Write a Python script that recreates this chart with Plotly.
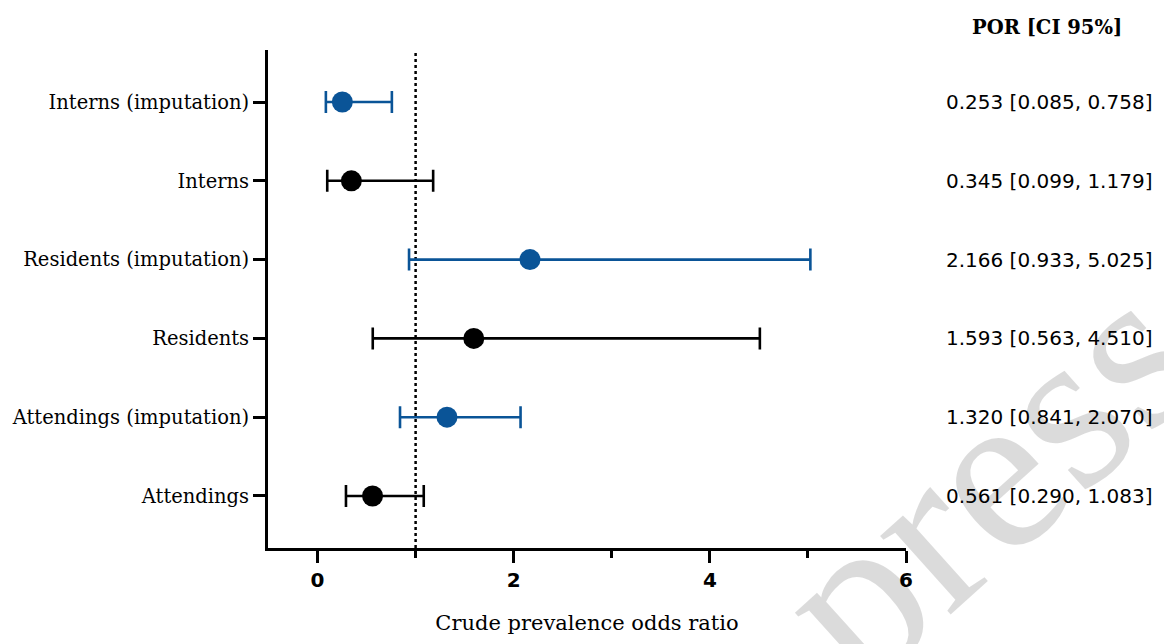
import plotly.graph_objects as go

# Data (top to bottom)
categories = ["Interns (imputation)", "Interns", "Residents (imputation)",
              "Residents", "Attendings (imputation)", "Attendings"]
por = [0.253, 0.345, 2.166, 1.593, 1.320, 0.561]
ci_low = [0.085, 0.099, 0.933, 0.563, 0.841, 0.290]
ci_high = [0.758, 1.179, 5.025, 4.510, 2.070, 1.083]
imputed = [True, False, True, False, True, False]
x_ticks = [0, 2, 4, 6]
x_minor = [1, 3, 5]

BLUE = "#0a5497"
BLACK = "#000000"
n = len(categories)
ypos = [n - 1 - i for i in range(n)]

fig = go.Figure()

for flag, col in [(True, BLUE), (False, BLACK)]:
    idx = [i for i in range(n) if imputed[i] == flag]
    fig.add_trace(go.Scatter(
        x=[por[i] for i in idx],
        y=[ypos[i] for i in idx],
        mode="markers",
        marker=dict(color=col, size=21, line=dict(width=0)),
        error_x=dict(type="data", symmetric=False,
                     array=[ci_high[i] - por[i] for i in idx],
                     arrayminus=[por[i] - ci_low[i] for i in idx],
                     color=col, thickness=2.6, width=11),
        showlegend=False, hoverinfo="skip",
    ))

annotations = []
# watermark (translucent so black marks under it stay black)
annotations.append(dict(text="press", xref="paper", yref="paper", x=1.125, y=0.14,
                        showarrow=False, textangle=-42,
                        font=dict(family="Liberation Serif", size=230, color="rgba(0,0,0,0.14)"),
                        xanchor="center", yanchor="middle"))
annotations.append(dict(text="<b>POR [CI 95%]</b>", xref="paper", yref="paper",
                        x=1.342, y=1.045, xanchor="right", yanchor="middle",
                        showarrow=False,
                        font=dict(family="DejaVu Serif", size=19.5, color="black")))
for i in range(n):
    annotations.append(dict(
        text=f"{por[i]:.3f} [{ci_low[i]:.3f}, {ci_high[i]:.3f}]",
        xref="paper", yref="y", x=1.388, y=ypos[i],
        xanchor="right", yanchor="middle", showarrow=False,
        font=dict(family="DejaVu Sans", size=20, color="black")))

fig.update_layout(
    width=1164, height=644,
    margin=dict(l=262, r=258, t=50, b=94),
    paper_bgcolor="white", plot_bgcolor="white",
    annotations=annotations,
    shapes=[dict(type="line", xref="x", yref="paper", x0=1, x1=1, y0=0, y1=1,
                 line=dict(color="black", width=2.5, dash="dot"), layer="below")],
    xaxis=dict(range=[-0.505, 6], tickvals=x_ticks, ticktext=[str(t) for t in x_ticks],
               showgrid=False, zeroline=False, showline=True, linecolor="black", linewidth=3,
               ticks="outside", ticklen=12, tickwidth=3, tickcolor="black",
               tickfont=dict(family="DejaVu Sans", size=20, color="black", weight="bold"),
               minor=dict(tickvals=x_minor, ticks="outside", ticklen=7, tickwidth=3, tickcolor="black"),
               title=dict(text="Crude prevalence odds ratio", standoff=25,
                          font=dict(family="DejaVu Serif", size=21, color="black"))),
    yaxis=dict(range=[-0.66, n - 1 + 0.66], tickvals=ypos, ticktext=categories,
               showgrid=False, zeroline=False, showline=True, linecolor="black", linewidth=3,
               ticks="outside", ticklen=12, tickwidth=3, tickcolor="black",
               tickfont=dict(family="DejaVu Serif", size=19.5, color="black")),
)

fig.write_html("out.html", config={"displayModeBar": False},
               post_script="document.body.style.margin='0px';document.body.style.overflow='hidden';")
